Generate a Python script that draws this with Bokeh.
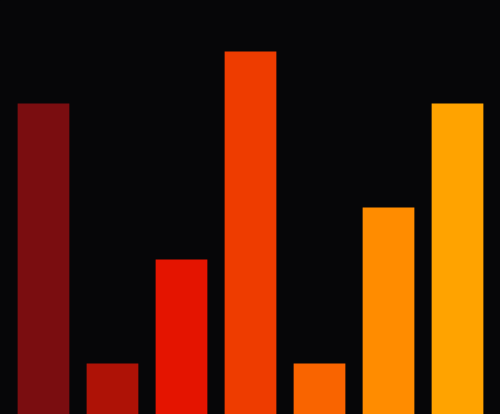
from bokeh.plotting import figure
from bokeh.models import Range1d, ColumnDataSource
from bokeh.embed import file_html
from bokeh.resources import INLINE

categories = ["A", "B", "C", "D", "E", "F", "G"]
values = [6, 1, 3, 7, 1, 4, 6]
colors = ["#7a0d10", "#ae1206", "#e41400", "#ee3c00", "#f96400", "#ff8c00", "#ffa300"]

BG = "#060608"

source = ColumnDataSource(dict(cat=categories, val=values, col=colors))

p = figure(x_range=categories, y_range=Range1d(0.02, 7.98),
           width=500, height=414, output_backend="svg", toolbar_location=None,
           background_fill_color=BG, border_fill_color=BG,
           min_border=0, min_border_left=0, min_border_right=0,
           min_border_top=0, min_border_bottom=0, outline_line_color=None)
p.x_range.range_padding = 0.246 / 7
p.x_range.range_padding_units = "percent"
p.vbar(x="cat", top="val", width=0.75, bottom=0, fill_color="col", line_color=None, source=source)
p.axis.visible = False
p.grid.visible = False

html = file_html(p, INLINE)
html = html.replace("</head>", "<style>html,body{background:%s;}</style></head>" % BG, 1)
open("out.html", "w").write(html)
